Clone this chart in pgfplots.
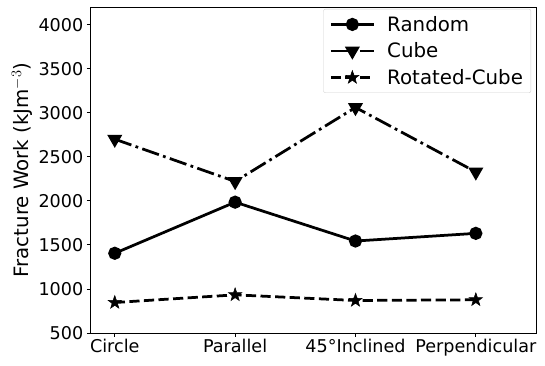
\documentclass[border=0pt]{standalone}
\usepackage{fontspec}
\setmainfont{DejaVu Sans}
\usepackage{pgfplots}
\pgfplotsset{compat=1.18}
\pgfdeclareplotmark{fstar}{%
  \pgfpathmoveto{\pgfqpointpolar{90}{\pgfplotmarksize}}%
  \pgfpathlineto{\pgfqpointpolar{126}{0.4\pgfplotmarksize}}%
  \pgfpathlineto{\pgfqpointpolar{162}{\pgfplotmarksize}}%
  \pgfpathlineto{\pgfqpointpolar{198}{0.4\pgfplotmarksize}}%
  \pgfpathlineto{\pgfqpointpolar{234}{\pgfplotmarksize}}%
  \pgfpathlineto{\pgfqpointpolar{270}{0.4\pgfplotmarksize}}%
  \pgfpathlineto{\pgfqpointpolar{306}{\pgfplotmarksize}}%
  \pgfpathlineto{\pgfqpointpolar{342}{0.4\pgfplotmarksize}}%
  \pgfpathlineto{\pgfqpointpolar{18}{\pgfplotmarksize}}%
  \pgfpathlineto{\pgfqpointpolar{54}{0.4\pgfplotmarksize}}%
  \pgfpathclose
  \pgfusepathqfillstroke}
\begin{document}
\begin{tikzpicture}
\begin{axis}[
  scale only axis,
  width=445.3pt, height=326pt,
  at={(0,0)}, anchor=south west,
  xmin=-0.2, xmax=3.5,
  ymin=500, ymax=4200,
  xtick={0,1,2,3},
  xticklabels={Circle,Parallel,45°Inclined,Perpendicular},
  ytick={500,1000,1500,2000,2500,3000,3500,4000},
  tick align=outside, tick pos=left,
  major tick length=3.85pt,
  tick style={black, line width=0.9pt},
  axis line style={line width=0.9pt},
  /pgf/number format/assume math mode=true,
  /pgf/number format/1000 sep={},
  ticklabel style={font=\fontsize{17.6}{21}\selectfont},
  xticklabel style={yshift=1pt},
  ylabel={Fracture Work (kJm$^{-3}$)},
  ylabel style={font=\fontsize{19.8}{24}\selectfont, yshift=-1pt},
  legend style={at={(rel axis cs:0.989,0.994)}, anchor=north east,
    draw=black!18, rounded corners=2pt, font=\fontsize{19.8}{24}\selectfont,
    row sep=6pt, column sep=10pt, inner xsep=6pt, inner ysep=5pt},
  legend cell align=left,
  legend image code/.code={%
    \draw[#1, mark=none, line width=2.75pt] (0pt,0pt) -- (43pt,0pt);
    \draw[#1] plot coordinates {(21.5pt,0pt)};},
]
\addplot[black, line width=2.75pt, mark=*, mark size=5.2pt, mark options={solid}]
  coordinates {(0,1405) (1,1985) (2,1544) (3,1631)};
\addlegendentry{Random}
\addplot[black, line width=2.75pt, dash pattern=on 17.6pt off 4.4pt on 2.75pt off 4.4pt, mark=triangle*, mark size=6pt, mark options={solid, rotate=180},
  legend image code/.code={%
    \draw[black, solid, line width=2.75pt] (0pt,0pt) -- (17.6pt,0pt) (22pt,0pt) -- (24.75pt,0pt) (29.15pt,0pt) -- (43pt,0pt);
    \draw[black, solid, line width=2.75pt, mark=triangle*, mark size=6pt, mark options={solid, rotate=180}] plot coordinates {(21.5pt,0pt)};}]
  coordinates {(0,2700) (1,2220) (2,3060) (3,2328)};
\addlegendentry{Cube}
\addplot[black, line width=2.75pt, dash pattern=on 10.2pt off 4.4pt, mark=fstar, mark size=7pt, mark options={solid, fill=black, line width=0.5pt}]
  coordinates {(0,846) (1,933) (2,869) (3,877)};
\addlegendentry{Rotated-Cube}
\end{axis}
\path[use as bounding box] (-90.7pt,-32pt) rectangle (454.3pt,333pt);
\end{tikzpicture}
\end{document}
